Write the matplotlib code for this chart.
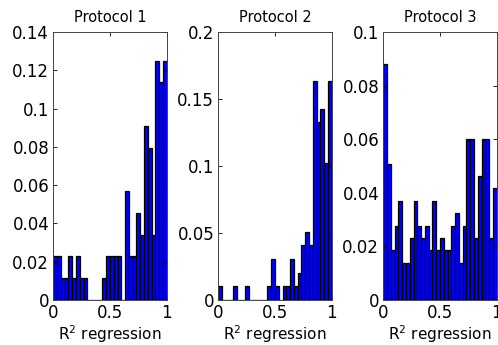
import numpy as np
import matplotlib
matplotlib.use("Agg")
import matplotlib.pyplot as plt
from matplotlib.ticker import FuncFormatter

# histogram counts per bin (30 bins over R^2 in [0, 1]), normalised below
titles = ["Protocol 1", "Protocol 2", "Protocol 3"]
counts_p1 = [2, 2, 1, 1, 2, 1, 2, 1, 1, 0, 0, 0, 0, 1, 2,
             2, 2, 2, 0, 5, 2, 2, 4, 3, 8, 7, 3, 11, 10, 11]
counts_p2 = [1, 0, 0, 0, 1, 0, 0, 1, 0, 0, 0, 0, 0, 1, 3,
             1, 0, 1, 1, 3, 1, 2, 4, 5, 4, 16, 13, 14, 10, 16]
counts_p3 = [19, 11, 4, 6, 8, 3, 3, 5, 8, 6, 5, 6, 4, 8, 4,
             5, 4, 4, 6, 7, 3, 6, 13, 13, 5, 10, 13, 13, 5, 9]
ymax = [0.14, 0.2, 0.1]
ystep = [0.02, 0.05, 0.02]
xticks = [0, 0.5, 1]

plt.rcParams['font.family'] = ['DejaVu Sans']

fig = plt.figure(figsize=(4.98, 3.45), dpi=100)

edges = np.linspace(0, 1, 31)
fmt = FuncFormatter(lambda v, p: ('%g' % round(v, 4)))

for i, counts in enumerate([counts_p1, counts_p2, counts_p3]):
    left = (53.3 + 165 * i) / 498
    ax = fig.add_axes([left, 45 / 345, 113.4 / 498, 268 / 345])
    c = np.array(counts, dtype=float)
    ax.bar(edges[:-1], c / c.sum(), width=np.diff(edges), align='edge',
           facecolor='#0000ff', edgecolor='black', linewidth=0.9)
    ax.set_xlim(0, 1)
    ax.set_ylim(0, ymax[i])
    ax.set_xticks(xticks)
    ax.set_yticks(np.arange(0, ymax[i] + 1e-9, ystep[i]))
    ax.xaxis.set_major_formatter(fmt)
    ax.yaxis.set_major_formatter(fmt)
    ax.tick_params(direction='in', top=True, right=True, length=3,
                   width=0.6, labelsize=12, pad=3)
    ax.tick_params(axis='x', pad=3)
    for s in ax.spines.values():
        s.set_linewidth(0.7)
        s.set_color('#444444')
    ax.set_title(titles[i], fontsize=10.5, pad=7)
    ax.set_xlabel('R$^2$ regression', fontsize=11, labelpad=1)

fig.savefig('out.png', dpi=100)
